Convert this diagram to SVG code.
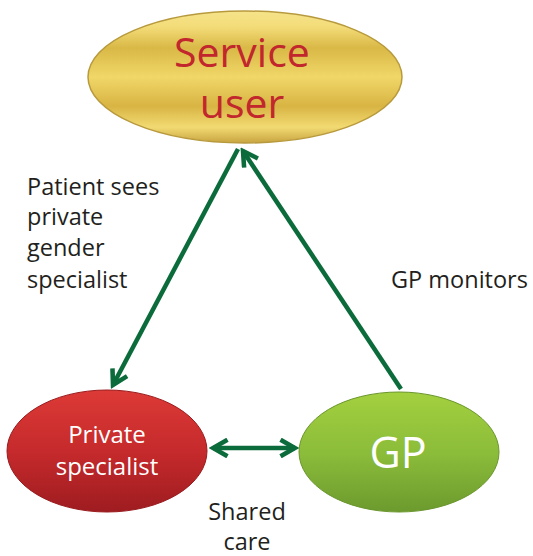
<svg xmlns="http://www.w3.org/2000/svg" width="533" height="556" viewBox="0 0 533 556">
<defs>
<linearGradient id="gold" x1="0" y1="0" x2="0" y2="1">
<stop offset="0" stop-color="#f6e38a"/>
<stop offset="0.12" stop-color="#f3dc78"/>
<stop offset="0.28" stop-color="#d9b846"/>
<stop offset="0.5" stop-color="#f0d768"/>
<stop offset="0.72" stop-color="#d8b443"/>
<stop offset="0.88" stop-color="#f2da72"/>
<stop offset="1" stop-color="#c8a440"/>
</linearGradient>
<linearGradient id="red" x1="0" y1="0" x2="0" y2="1">
<stop offset="0" stop-color="#dc3a36"/>
<stop offset="0.5" stop-color="#c62a2c"/>
<stop offset="1" stop-color="#9e1c20"/>
</linearGradient>
<linearGradient id="green" x1="0" y1="0" x2="0" y2="1">
<stop offset="0" stop-color="#a3d03f"/>
<stop offset="0.5" stop-color="#8cbd3a"/>
<stop offset="1" stop-color="#6c9a2e"/>
</linearGradient>
<marker id="head" viewBox="0 0 10 10" refX="8" refY="5" markerWidth="4.6" markerHeight="4.6" orient="auto-start-reverse" markerUnits="strokeWidth">
<path d="M1,1 L8,5 L1,9" fill="none" stroke="#0b6b3a" stroke-width="2.2"/>
</marker>
</defs>
<style>
.lbl{font-family:"Open Sans","Liberation Sans",sans-serif;font-size:23.5px;fill:#231f20}
.conn{stroke:#0b6b3a;stroke-width:4.5;fill:none}
.node text{font-family:"Open Sans","Liberation Sans",sans-serif;text-anchor:middle}
</style>
<g id="service-user" class="node">
<ellipse cx="245" cy="77" rx="157" ry="66" fill="url(#gold)" stroke="#b89a3e" stroke-width="1.5"/>
<text x="242" y="67" font-size="41" fill="#c1272d">Service</text>
<text x="242" y="118" font-size="41" fill="#c1272d">user</text>
</g>
<g id="private-specialist" class="node">
<ellipse cx="107" cy="451" rx="100" ry="61" fill="url(#red)" stroke="#9a1c1e" stroke-width="1"/>
<text x="107" y="443" font-size="24" fill="#ffffff">Private</text>
<text x="107" y="475" font-size="24" fill="#ffffff">specialist</text>
</g>
<g id="gp" class="node">
<ellipse cx="399" cy="452" rx="100" ry="60" fill="url(#green)" stroke="#6a962d" stroke-width="1"/>
<text x="398" y="468" font-size="43" fill="#ffffff">GP</text>
</g>
<g id="connectors">
<line class="conn" x1="238" y1="149" x2="113" y2="385" marker-end="url(#head)"/>
<line class="conn" x1="401" y1="389" x2="243" y2="151" marker-end="url(#head)"/>
<line class="conn" x1="213" y1="448" x2="295" y2="448" marker-start="url(#head)" marker-end="url(#head)"/>
</g>
<g id="labels">
<text class="lbl" x="27" y="195">Patient sees</text>
<text class="lbl" x="27" y="225">private</text>
<text class="lbl" x="27" y="256">gender</text>
<text class="lbl" x="27" y="288">specialist</text>
<text class="lbl" x="391" y="288">GP monitors</text>
<text class="lbl" x="247" y="520" text-anchor="middle">Shared</text>
<text class="lbl" x="247" y="550" text-anchor="middle">care</text>
</g>
</svg>
